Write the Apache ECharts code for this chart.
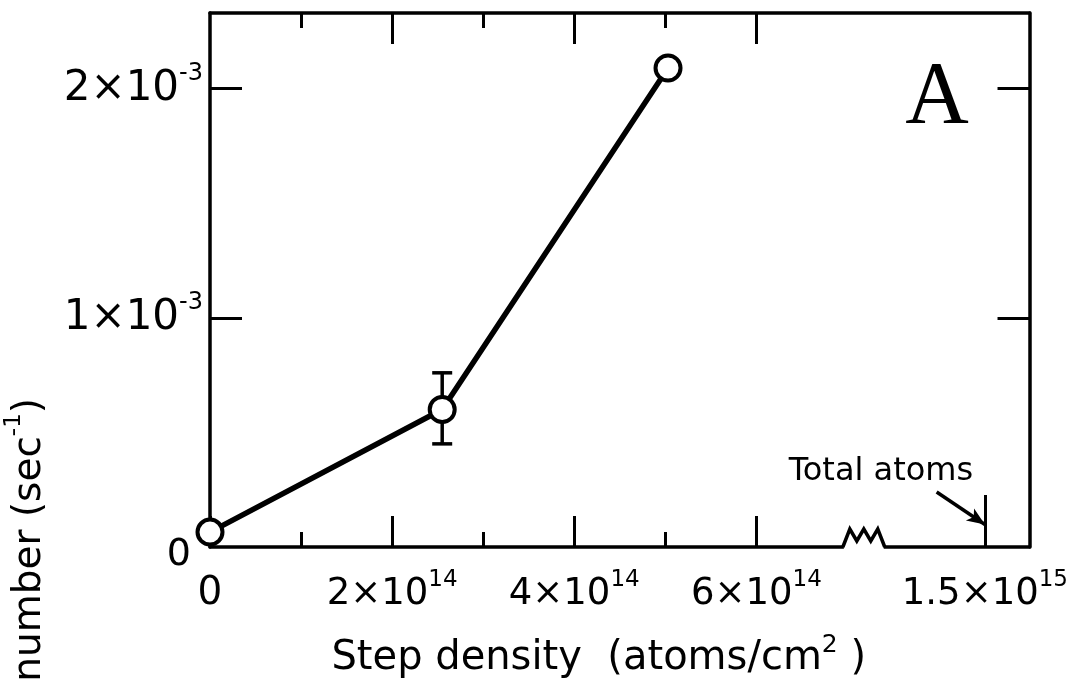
<!DOCTYPE html>
<html>
<head>
<meta charset="utf-8">
<title>Step density</title>
<script src="https://cdn.jsdelivr.net/npm/echarts@6/dist/echarts.min.js"></script>
<style>
  html, body { margin: 0; padding: 0; background: #fff; }
  #chart { width: 1071px; height: 684px; }
</style>
</head>
<body>
<div id="chart"></div>
<script>
// Measured rate against step density
const densityValues = [0, 2.55e14, 5.03e14];
const rateValues = [0.065e-3, 0.60e-3, 2.09e-3];

// Error bar on the middle point
const errorDensity = [2.55e14];
const errorLow = [0.45e-3];
const errorHigh = [0.76e-3];

// Axis ticks
const xMajorTicks = [0, 2e14, 4e14, 6e14];
const xMinorTicks = [1e14, 3e14, 5e14];
const totalAtoms = 1.5e15;
const yTicks = [0, 1e-3, 2e-3];

// Broken x axis: values between BREAK_START and BREAK_END are squeezed into BREAK_GAP
const BREAK_START = 6.95e14;
const BREAK_END = 1.39e15;
const BREAK_GAP = 0.46e14;
const X_MAX = 9.0e14;     // in axis units
const Y_MAX = 2.33e-3;

function toAxis(v) {
  if (v <= BREAK_START) return v;
  if (v >= BREAK_END) return v - (BREAK_END - BREAK_START) + BREAK_GAP;
  return BREAK_START + (v - BREAK_START) / (BREAK_END - BREAK_START) * BREAK_GAP;
}
function fromAxis(d) {
  if (d <= BREAK_START) return d;
  if (d >= BREAK_START + BREAK_GAP) return d + (BREAK_END - BREAK_START) - BREAK_GAP;
  return BREAK_START + (d - BREAK_START) / BREAK_GAP * (BREAK_END - BREAK_START);
}

function sciLabel(v) {
  if (Math.abs(v) < 1e-30) return '{z|0}';
  const exp = Math.floor(Math.log10(v) + 1e-9);
  const mant = Math.round(v / Math.pow(10, exp) * 100) / 100;
  return '{b|' + mant + '×10}{s|' + exp + '}';
}

const FONT = '"DejaVu Sans", "Noto Sans", sans-serif';
const tickStyle = { color: '#000', width: 3 };
const frameLine = { show: true, onZero: false, lineStyle: { color: '#000', width: 3.5 } };

const xRich = {
  b: { fontFamily: FONT, fontSize: 37, lineHeight: 50, color: '#000' },
  s: { fontFamily: FONT, fontSize: 23, lineHeight: 23, verticalAlign: 'top', color: '#000' },
  z: { fontFamily: FONT, fontSize: 39, lineHeight: 50, color: '#000' }
};
const yRich = {
  b: { fontFamily: FONT, fontSize: 42, lineHeight: 54, color: '#000' },
  s: { fontFamily: FONT, fontSize: 24, lineHeight: 24, verticalAlign: 'top', color: '#000' },
  z: { fontFamily: FONT, fontSize: 38, lineHeight: 54, color: '#000', padding: [16, 12, 0, 0] }
};

function xAxisBase(extra) {
  return Object.assign({
    type: 'value', min: 0, max: X_MAX,
    splitLine: { show: false },
    axisLine: { show: false },
    axisLabel: { show: false },
    axisTick: { show: false }
  }, extra);
}

const chart = echarts.init(document.getElementById('chart'), null, { renderer: 'canvas' });

const option = {
  backgroundColor: '#fff',
  animation: false,
  grid: { left: 210, right: 30, top: 13, bottom: 126, containLabel: false },
  xAxis: [
    xAxisBase({
      position: 'bottom',
      axisLine: frameLine,
      axisTick: { show: true, inside: true, length: 31, customValues: xMajorTicks.map(toAxis), lineStyle: tickStyle },
      axisLabel: {
        show: true, margin: 22, rich: xRich,
        customValues: xMajorTicks.concat([totalAtoms]).map(toAxis),
        formatter: function (d) { return sciLabel(fromAxis(d)); }
      },
      name: '{t|Step density  (atoms/cm}{s|2}{t| )}',
      nameLocation: 'middle',
      nameGap: 86,
      nameTextStyle: {
        padding: [0, 42, 0, 0],
        rich: {
          t: { fontFamily: FONT, fontSize: 40, lineHeight: 52, color: '#000' },
          s: { fontFamily: FONT, fontSize: 25, lineHeight: 25, verticalAlign: 'top', color: '#000' }
        }
      }
    }),
    xAxisBase({
      position: 'bottom',
      axisTick: { show: true, inside: true, length: 15, customValues: xMinorTicks.map(toAxis), lineStyle: tickStyle }
    }),
    xAxisBase({
      position: 'bottom',
      axisTick: { show: true, inside: true, length: 52, customValues: [toAxis(totalAtoms)], lineStyle: tickStyle }
    }),
    xAxisBase({
      position: 'top',
      axisLine: frameLine,
      axisTick: { show: true, inside: true, length: 31, customValues: xMajorTicks.slice(1).map(toAxis), lineStyle: tickStyle }
    }),
    xAxisBase({
      position: 'top',
      axisTick: { show: true, inside: true, length: 15, customValues: xMinorTicks.map(toAxis), lineStyle: tickStyle }
    })
  ],
  yAxis: [
    {
      type: 'value', position: 'left', min: 0, max: Y_MAX,
      splitLine: { show: false },
      axisLine: frameLine,
      axisTick: { show: true, inside: true, length: 32, customValues: yTicks.slice(1), lineStyle: tickStyle },
      axisLabel: { show: true, margin: 7, rich: yRich, customValues: yTicks, formatter: sciLabel }
    },
    {
      type: 'value', position: 'right', min: 0, max: Y_MAX,
      splitLine: { show: false },
      axisLine: frameLine,
      axisTick: { show: true, inside: true, length: 32, customValues: yTicks.slice(1), lineStyle: tickStyle },
      axisLabel: { show: false }
    }
  ],
  series: [
    {
      type: 'custom',
      z: 1,
      xAxisIndex: 0, yAxisIndex: 0,
      clip: false,
      data: errorDensity.map(function (x, i) { return [toAxis(x), errorLow[i], errorHigh[i]]; }),
      renderItem: function (params, api) {
        const top = api.coord([api.value(0), api.value(2)]);
        const bot = api.coord([api.value(0), api.value(1)]);
        const half = 10;
        const st = { stroke: '#000', lineWidth: 3.5 };
        return {
          type: 'group',
          children: [
            { type: 'line', shape: { x1: top[0], y1: top[1], x2: bot[0], y2: bot[1] }, style: st },
            { type: 'line', shape: { x1: top[0] - half, y1: top[1], x2: top[0] + half, y2: top[1] }, style: st },
            { type: 'line', shape: { x1: bot[0] - half, y1: bot[1], x2: bot[0] + half, y2: bot[1] }, style: st }
          ]
        };
      }
    },
    {
      type: 'line',
      z: 3,
      xAxisIndex: 0, yAxisIndex: 0,
      clip: false,
      data: densityValues.map(function (x, i) { return [toAxis(x), rateValues[i]]; }),
      symbol: 'circle',
      symbolSize: 25,
      showAllSymbol: true,
      lineStyle: { color: '#000', width: 5.5 },
      itemStyle: { color: '#fff', borderColor: '#000', borderWidth: 4 },
      markLine: {
        silent: true,
        symbol: ['none', 'arrow'],
        symbolSize: [11, 18],
        label: { show: false },
        lineStyle: { color: '#000', width: 3.5, type: 'solid' },
        data: [[
          { coord: [toAxis(totalAtoms) - 0.53e14, 0.24e-3] },
          { coord: [toAxis(totalAtoms), 0.098e-3] }
        ]]
      }
    }
  ]
};

chart.setOption(option);

// Zigzag break mark on the bottom axis and the text annotations
const p0 = chart.convertToPixel({ xAxisIndex: 0, yAxisIndex: 0 }, [BREAK_START, 0]);
const p1 = chart.convertToPixel({ xAxisIndex: 0, yAxisIndex: 0 }, [BREAK_START + BREAK_GAP, 0]);
const zigW = p1[0] - p0[0];
const zigRise = [0, 18, 6, 18, 6, 18, 0];
const zigPoints = zigRise.map(function (h, i) { return [p0[0] + zigW * i / 6, p0[1] - h]; });
const tickPx = chart.convertToPixel({ xAxisIndex: 0, yAxisIndex: 0 }, [toAxis(totalAtoms), 0]);

chart.setOption({
  graphic: [
    {
      type: 'rect', z: 100,
      shape: { x: p0[0] + 1, y: p0[1] - 3, width: zigW - 2, height: 6 },
      style: { fill: '#fff' }
    },
    {
      type: 'polyline', z: 101,
      shape: { points: zigPoints },
      style: { stroke: '#000', lineWidth: 3.5, fill: null, lineJoin: 'miter' }
    },
    {
      type: 'text', z: 101,
      x: tickPx[0] - 104, y: tickPx[1] - 75,
      style: {
        text: 'Total atoms', fill: '#000',
        font: '32px ' + FONT,
        textAlign: 'center', textVerticalAlign: 'middle', align: 'center', verticalAlign: 'middle'
      }
    },
    {
      type: 'text', z: 101,
      x: 937, y: 99,
      style: {
        text: 'A', fill: '#000',
        font: '88px "Liberation Serif", "DejaVu Serif", serif',
        textAlign: 'center', textVerticalAlign: 'middle', align: 'center', verticalAlign: 'middle'
      }
    },
    {
      type: 'text', z: 101,
      x: 30, y: 398,
      rotation: Math.PI / 2,
      style: {
        text: '{t|number (sec}{s|-1}{t|)}',
        textAlign: 'right', textVerticalAlign: 'middle', align: 'right', verticalAlign: 'middle',
        rich: {
          t: { fontFamily: FONT, fontSize: 39, lineHeight: 54, fill: '#000', color: '#000' },
          s: { fontFamily: FONT, fontSize: 23, lineHeight: 23, verticalAlign: 'top', fill: '#000', color: '#000' }
        }
      }
    }
  ]
});
</script>
</body>
</html>
